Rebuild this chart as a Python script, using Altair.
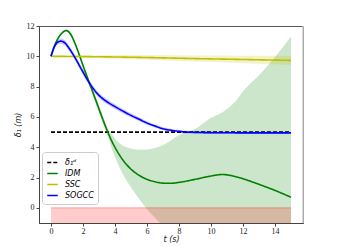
import altair as alt
import pandas as pd

# ---- data ----
t_idm = [0, 0.2, 0.45, 0.7, 0.95, 1.2, 1.5, 1.8, 2.1, 2.4, 2.8, 3.2, 3.55, 3.8, 4.1, 4.5,
         5, 5.5, 6, 6.5, 7, 7.5, 8, 9, 10, 10.7, 11.5, 12, 13, 14, 15]
idm = [10, 10.65, 11.2, 11.55, 11.7, 11.5, 10.85, 10.0, 9.1, 8.24, 7.1, 5.95, 5.0, 4.4, 3.8, 3.15,
       2.55, 2.15, 1.88, 1.72, 1.63, 1.62, 1.68, 1.88, 2.1, 2.2, 2.07, 1.92, 1.55, 1.15, 0.7]
idm_hi = [10, 10.7, 11.27, 11.63, 11.78, 11.6, 10.95, 10.12, 9.25, 8.42, 7.35, 6.2, 5.25, 4.85, 4.45, 4.1,
          3.92, 3.84, 3.85, 3.95, 4.15, 4.45, 4.8, 5.2, 5.95, 6.3, 7.0, 7.7, 8.75, 9.95, 11.3]
idm_lo = [10, 10.6, 11.13, 11.47, 11.62, 11.4, 10.75, 9.88, 8.95, 8.06, 6.85, 5.7, 4.7, 3.9, 3.1, 2.2,
          1.35, 0.6, -0.1, -0.65, -1.2, -1.8, -2.4, -3.6, -4.8, -5.6, -6.5, -7.1, -8.2, -9.2, -10.0]

t_sog = [0, 0.2, 0.4, 0.6, 0.85, 1.15, 1.45, 1.9, 2.4, 3.0, 3.5, 4.0, 4.5, 5.0, 5.5, 6.0, 6.5, 7.0,
         7.5, 8.0, 8.5, 9, 10, 12, 15]
sog = [10, 10.6, 10.92, 11.0, 10.9, 10.5, 10.0, 9.15, 8.24, 7.42, 7.0, 6.68, 6.38, 6.1, 5.85, 5.6, 5.4,
       5.22, 5.12, 5.05, 5.0, 4.98, 4.96, 4.95, 4.95]
sog_sd = [0.02, 0.1, 0.15, 0.17, 0.18, 0.18, 0.18, 0.18, 0.18, 0.17, 0.17, 0.16, 0.15, 0.14, 0.13, 0.12,
          0.11, 0.1, 0.1, 0.09, 0.09, 0.08, 0.08, 0.07, 0.07]

t_ssc = [0, 3, 6, 9, 12, 15]
ssc = [10.0, 9.97, 9.92, 9.85, 9.79, 9.73]
ssc_sd = [0.03, 0.1, 0.15, 0.2, 0.25, 0.3]

t_ref = [0, 15]
ref = [5, 5]

series_names = ["δ₁ᵈ", "IDM", "SSC", "SOGCC"]
series_colors = ["#000000", "#008000", "#bfbf00", "#0000ff"]

# ---- tables ----
lines = pd.concat([
    pd.DataFrame({"t": t_ref, "v": ref, "s": series_names[0], "o": 0}),
    pd.DataFrame({"t": t_idm, "v": idm, "s": series_names[1], "o": 1}),
    pd.DataFrame({"t": t_ssc, "v": ssc, "s": series_names[2], "o": 2}),
    pd.DataFrame({"t": t_sog, "v": sog, "s": series_names[3], "o": 3}),
])
idm_band = pd.DataFrame({"t": t_idm, "lo": idm_lo, "hi": idm_hi})
sog_band = pd.DataFrame({"t": t_sog,
                         "lo": [a - b for a, b in zip(sog, sog_sd)],
                         "hi": [a + b for a, b in zip(sog, sog_sd)]})
ssc_band = pd.DataFrame({"t": t_ssc,
                         "lo": [a - b for a, b in zip(ssc, ssc_sd)],
                         "hi": [a + b for a, b in zip(ssc, ssc_sd)]})
red = pd.DataFrame({"t0": [0], "t1": [15], "lo": [-1], "hi": [0]})

xs = alt.Scale(domain=[-0.75, 15.75], nice=False, zero=False)
ys = alt.Scale(domain=[-1, 12], nice=False, zero=False)

xax = alt.Axis(values=list(range(0, 15, 2)), title="t (s)", grid=False)
yax = alt.Axis(values=list(range(0, 13, 2)), title="δ₁ (m)", grid=False)


def band(df, color):
    return alt.Chart(df).mark_area(color=color, opacity=0.2, clip=True,
                                   interpolate="monotone").encode(
        x=alt.X("t:Q", scale=xs, axis=xax),
        y=alt.Y("lo:Q", scale=ys, axis=yax),
        y2="hi:Q",
    )


red_layer = alt.Chart(red).mark_rect(color="red", opacity=0.2, clip=True).encode(
    x=alt.X("t0:Q", scale=xs, axis=xax), x2="t1:Q",
    y=alt.Y("lo:Q", scale=ys, axis=yax), y2="hi:Q",
)
red_edge = alt.Chart(red).mark_rule(color="red", opacity=0.3).encode(
    x=alt.X("t0:Q", scale=xs, axis=xax), x2="t1:Q",
    y=alt.Y("hi:Q", scale=ys, axis=yax),
)

line_layer = alt.Chart(lines).mark_line(strokeWidth=1.6, clip=True,
                                        interpolate="monotone").encode(
    x=alt.X("t:Q", scale=xs, axis=xax),
    y=alt.Y("v:Q", scale=ys, axis=yax),
    color=alt.Color("s:N", scale=alt.Scale(domain=series_names, range=series_colors),
                    legend=alt.Legend(orient="none", legendX=3, legendY=126, title=None,
                                      symbolType="stroke", symbolSize=110,
                                      symbolStrokeWidth=1.6, labelFontSize=8,
                                      labelFont="DejaVu Sans", labelFontStyle="italic",
                                      rowPadding=0, padding=4, strokeColor="#cccccc",
                                      fillColor="white", cornerRadius=3, labelOffset=6)),
    strokeDash=alt.StrokeDash("s:N", scale=alt.Scale(domain=series_names,
                                                      range=[[4, 2], [1, 0], [1, 0], [1, 0]]),
                              legend=alt.Legend(orient="none", legendX=3, legendY=126, title=None)),
    order=alt.Order("o:Q"),
)

right_edge = alt.Chart(red).mark_rule(color="#c8c8c8", strokeWidth=1.5).encode(
    x=alt.value(264), y=alt.value(0), y2=alt.value(197)
)

chart = alt.layer(
    band(idm_band, "green"), band(ssc_band, "#bfbf00"), band(sog_band, "blue"),
    red_layer, red_edge, line_layer, right_edge
).properties(
    width=264, height=197,
    autosize=alt.AutoSizeParams(type="none"),
    padding={"left": 31, "top": 18, "right": 27, "bottom": 22},
).configure_view(
    stroke="#555555", strokeWidth=1
).configure_axis(
    labelFont="Liberation Serif", labelFontSize=8, labelColor="#222",
    titleFont="DejaVu Sans", titleFontSize=8, titleFontStyle="italic", titleFontWeight="normal",
    titleColor="#222", domainColor="#444", tickColor="#444", tickSize=3,
    labelPadding=2,
).configure_axisY(titlePadding=4).configure_axisX(titlePadding=0, labelPadding=1)

chart.save("out.html", embed_options={"renderer": "svg", "actions": False})
